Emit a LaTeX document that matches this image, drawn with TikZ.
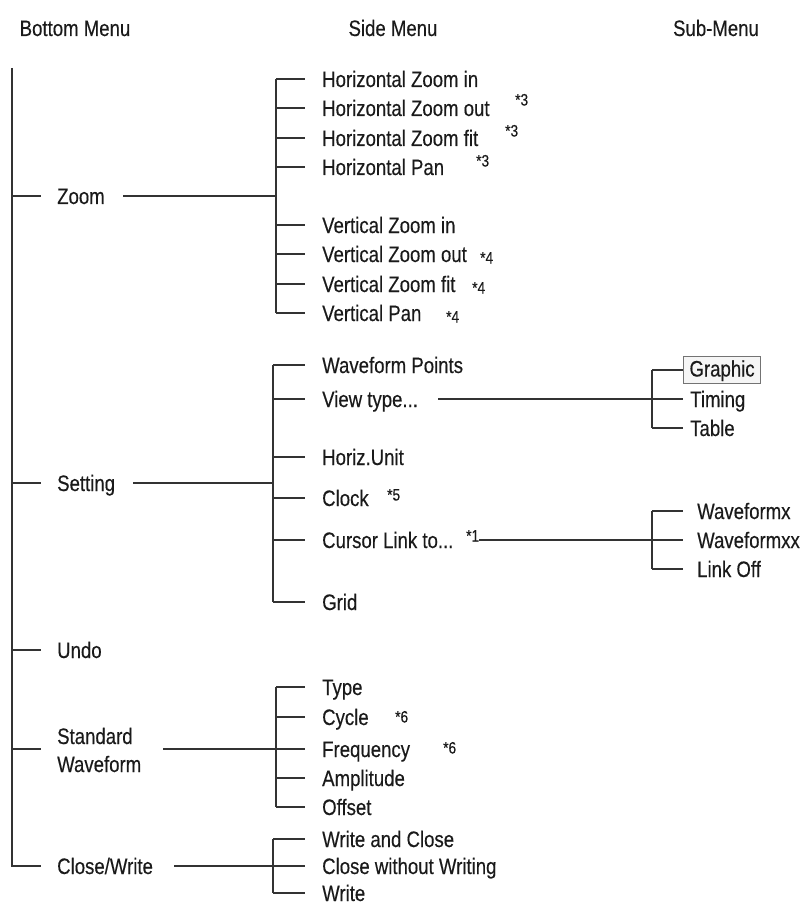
\documentclass[tikz,border=0pt]{standalone}
\usepackage{fontspec}
\setmainfont{Liberation Sans}[FakeStretch=0.83,FakeBold=0.3]
\definecolor{lncol}{HTML}{333333}
\definecolor{txcol}{HTML}{1A1A1A}
\begin{document}
\begin{tikzpicture}[x=1pt,y=-1pt,
  ln/.style={draw=lncol, line width=1.2pt},
  lbl/.style={anchor=west, inner sep=0pt, text height=16pt, text depth=0pt,
    font=\fontsize{22.4}{26}\selectfont, text=txcol},
  ast/.style={anchor=west, inner sep=0pt, text height=11pt, text depth=0pt,
    font=\fontsize{16.5}{19}\selectfont, text=txcol},
  hdr/.style={inner sep=0pt, text height=16pt, text depth=0pt,
    font=\fontsize{22.4}{26}\selectfont, text=txcol},
  gbox/.style={lbl, draw=black!55, fill=black!4, line width=1pt, inner xsep=6pt,
    text height=20pt, text depth=7pt}
]
\useasboundingbox (0,0) rectangle (809,904);

% headers
\node[hdr] (h1) at (75,28) {Bottom Menu};
\node[hdr] (h2) at (393,28) {Side Menu};
\node[hdr] (h3) at (716,28) {Sub-Menu};

% main vertical
\coordinate (mtop) at (12,68);
\coordinate (mz) at (12,196);
\coordinate (ms) at (12,483);
\coordinate (mu) at (12,650);
\coordinate (mw) at (12,749);
\coordinate (mc) at (12,866);

% bottom menu items
\node[lbl] (zoom) at (57,196) {Zoom};
\node[lbl] (setting) at (57,483) {Setting};
\node[lbl] (undo) at (57,650) {Undo};
\node[lbl] (std1) at (57,736) {Standard};
\node[lbl] (std2) at (57,764) {Waveform};
\node[lbl] (close) at (57,866) {Close/Write};

\draw[ln] (mtop) -- (mc) -- (41,866);
\draw[ln] (mz) -- (41,196);
\draw[ln] (ms) -- (41,483);
\draw[ln] (mu) -- (41,650);
\draw[ln] (mw) -- (41,749);

% ---------------- Zoom side menu
\coordinate (zt) at (276,79);
\coordinate (zb) at (276,313);
\coordinate (zm) at (276,196);
\node[lbl] (hzi) at (322,79) {Horizontal Zoom in};
\node[lbl] (hzo) at (322,108) {Horizontal Zoom out};
\node[lbl] (hzf) at (322,138) {Horizontal Zoom fit};
\node[lbl] (hzp) at (322,167) {Horizontal Pan};
\node[lbl] (vzi) at (322,225) {Vertical Zoom in};
\node[lbl] (vzo) at (322,254) {Vertical Zoom out};
\node[lbl] (vzf) at (322,284) {Vertical Zoom fit};
\node[lbl] (vzp) at (322,313) {Vertical Pan};
\node[ast] (a1) at (515,100) {*3};
\node[ast] (a2) at (505,131) {*3};
\node[ast] (a3) at (476,161) {*3};
\node[ast] (a4) at (480,258) {*4};
\node[ast] (a5) at (472,288) {*4};
\node[ast] (a6) at (446,317) {*4};
\draw[ln] (123,196) -- (zm);
\draw[ln] (zt) -- (zb);
\foreach \n in {hzi,hzo,hzf,hzp,vzi,vzo,vzf,vzp}
  \draw[ln] (zt|-\n.west) -- (305,0|-\n.west);

% ---------------- Setting side menu
\coordinate (st) at (273,365);
\coordinate (sb) at (273,602);
\coordinate (sm) at (273,483);
\node[lbl] (wp) at (322,365) {Waveform Points};
\node[lbl] (vt) at (322,399) {View type...};
\node[lbl] (hu) at (322,457) {Horiz.Unit};
\node[lbl] (ck) at (322,498) {Clock};
\node[lbl] (cl) at (322,540) {Cursor Link to...};
\node[lbl] (gr) at (322,602) {Grid};
\node[ast] (a7) at (387,495) {*5};
\node[ast] (a8) at (466,536) {*1};
\draw[ln] (133,483) -- (sm);
\draw[ln] (st) -- (sb);
\foreach \n in {wp,vt,hu,ck,cl,gr}
  \draw[ln] (st|-\n.west) -- (305,0|-\n.west);

% sub menu: view type
\coordinate (v1t) at (652,370);
\coordinate (v1b) at (652,428);
\node[gbox] (graphic) at (683,370) {Graphic};
\node[lbl] (timing) at (690,399) {Timing};
\node[lbl] (table) at (690,428) {Table};
\draw[ln] (v1t) -- (v1b);
\draw[ln] (438,399) -- (683,399);
\draw[ln] (v1t) -- (graphic.west);
\draw[ln] (v1b) -- (683,428);

% sub menu: cursor link
\coordinate (c1t) at (652,511);
\coordinate (c1b) at (652,569);
\node[lbl] (wx) at (697,511) {Waveformx};
\node[lbl] (wxx) at (697,540) {Waveformxx};
\node[lbl] (lo) at (697,569) {Link Off};
\draw[ln] (c1t) -- (c1b);
\draw[ln] (a8.east|-wxx.west) -- (683,540);
\draw[ln] (c1t) -- (683,511);
\draw[ln] (c1b) -- (683,569);

% ---------------- Standard waveform side menu
\coordinate (wt) at (276,687);
\coordinate (wb) at (276,807);
\coordinate (wm) at (276,749);
\node[lbl] (ty) at (322,687) {Type};
\node[lbl] (cy) at (322,717) {Cycle};
\node[lbl] (fr) at (322,749) {Frequency};
\node[lbl] (am) at (322,778) {Amplitude};
\node[lbl] (of) at (322,807) {Offset};
\node[ast] (a9) at (395,717) {*6};
\node[ast] (a10) at (443,748) {*6};
\draw[ln] (163,749) -- (wm);
\draw[ln] (wt) -- (wb);
\foreach \n in {ty,cy,fr,am,of}
  \draw[ln] (wt|-\n.west) -- (305,0|-\n.west);

% ---------------- Close/Write side menu
\coordinate (ct) at (273,839);
\coordinate (cb) at (273,893);
\coordinate (cm) at (273,866);
\node[lbl] (wc) at (322,839) {Write and Close};
\node[lbl] (cw) at (322,866) {Close without Writing};
\node[lbl] (wr) at (322,893) {Write};
\draw[ln] (174,866) -- (cm);
\draw[ln] (ct) -- (cb);
\foreach \n in {wc,cw,wr}
  \draw[ln] (ct|-\n.west) -- (305,0|-\n.west);
\end{tikzpicture}
\end{document}
